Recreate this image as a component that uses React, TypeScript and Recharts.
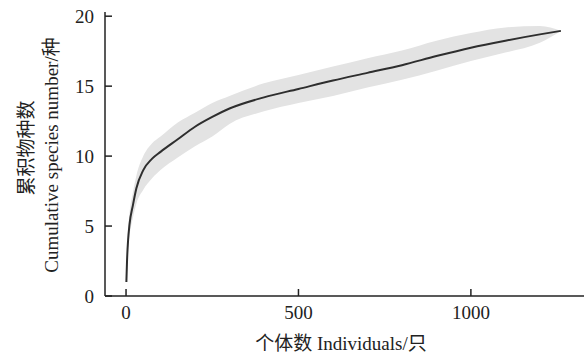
import { Area, ComposedChart, Line, XAxis, YAxis } from "recharts";

// rarefaction curve
const individuals = [1, 3, 6, 10, 20, 30, 50, 75, 100, 150, 200, 250, 300, 400, 500, 600, 700, 800, 900, 1000, 1100, 1200, 1261];
const speciesMean = [1.0, 2.6, 4.0, 5.1, 6.5, 7.7, 9.0, 9.8, 10.3, 11.2, 12.1, 12.8, 13.4, 14.2, 14.8, 15.4, 15.95, 16.5, 17.15, 17.75, 18.25, 18.7, 18.95];
const speciesLow = [1.0, 2.2, 3.4, 4.3, 5.6, 6.6, 7.6, 8.4, 9.0, 9.9, 10.7, 11.4, 12.3, 13.2, 13.8, 14.3, 14.9, 15.45, 16.1, 16.8, 17.4, 18.1, 18.95];
const speciesHigh = [1.0, 3.0, 4.7, 5.9, 7.4, 8.6, 10.0, 10.9, 11.4, 12.4, 13.1, 13.8, 14.3, 15.2, 15.8, 16.4, 17.0, 17.55, 18.25, 18.8, 19.2, 19.3, 18.95];

const xTicks = [0, 500, 1000];
const yTicks = [0, 5, 10, 15, 20];

const data = individuals.map((n, i) => ({
  n,
  mean: speciesMean[i],
  band: [speciesLow[i], speciesHigh[i]],
}));

const FONT = '"Liberation Serif", "Times New Roman", "DejaVu Serif", serif, "Noto Sans CJK SC"';
const INK = "#222";
const txt = { fontFamily: FONT, fontSize: 19 };

function XTick({ x, y, payload }: any) {
  return (
    <g>
      <line x1={x} y1={y} x2={x} y2={y - 7} stroke={INK} strokeWidth={1.5} />
      <text x={x} y={y + 23} textAnchor="middle" style={txt} fill={INK}>
        {payload.value}
      </text>
    </g>
  );
}

function YTick({ x, y, payload }: any) {
  return (
    <g>
      <line x1={x} y1={y} x2={x + 7} y2={y} stroke={INK} strokeWidth={1.5} />
      <text x={x - 11} y={y + 6.5} textAnchor="end" style={txt} fill={INK}>
        {payload.value}
      </text>
    </g>
  );
}

function YTitle() {
  return (
    <g style={txt} fill={INK}>
      <text x={26} y={148} textAnchor="middle" dominantBaseline="central" transform="rotate(-90, 26, 148)">
        累积物种数
      </text>
      <text x={51} y={155} textAnchor="middle" dominantBaseline="central" transform="rotate(-90, 51, 155)">
        Cumulative species number/种
      </text>
    </g>
  );
}

function XTitle() {
  return (
    <text x={341} y={350} textAnchor="middle" style={txt} fill={INK}>
      个体数 Individuals/只
    </text>
  );
}

export default function App() {
  return (
    <div style={{ position: "absolute", left: 0, top: 0, background: "#fff" }}>
      <ComposedChart width={584} height={357} data={data} margin={{ top: 12, right: 0, bottom: 0, left: 0 }}>
        <XAxis
          dataKey="n"
          type="number"
          domain={[-61, 1328]}
          ticks={xTicks}
          allowDataOverflow
          height={61}
          tickSize={0}
          tickMargin={0}
          tickLine={false}
          axisLine={{ stroke: INK, strokeWidth: 1.5 }}
          tick={<XTick />}
          label={<XTitle />}
        />
        <YAxis
          type="number"
          domain={[0, 20.3]}
          ticks={yTicks}
          allowDataOverflow
          width={105}
          tickSize={0}
          tickMargin={0}
          tickLine={false}
          axisLine={{ stroke: INK, strokeWidth: 1.5 }}
          tick={<YTick />}
          label={<YTitle />}
        />
        <Area
          type="monotone"
          dataKey="band"
          stroke="none"
          fill="#e3e3e3"
          fillOpacity={1}
          isAnimationActive={false}
        />
        <Line
          type="monotone"
          dataKey="mean"
          stroke="#2e2e2e"
          strokeWidth={2}
          dot={false}
          isAnimationActive={false}
        />
      </ComposedChart>
    </div>
  );
}
